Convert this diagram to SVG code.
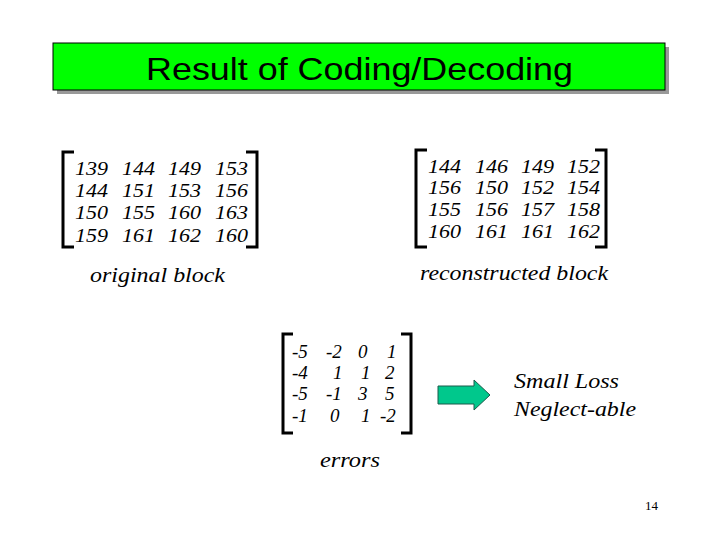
<svg xmlns="http://www.w3.org/2000/svg" width="720" height="540" viewBox="0 0 720 540">
<style>
.m{font-family:"Liberation Serif",serif;font-style:italic;font-size:19px;fill:#000}
.m text{lengthAdjust:spacingAndGlyphs}
.l{font-family:"Liberation Serif",serif;font-style:italic;font-size:22px;fill:#000}
.b{fill:none;stroke:#000;stroke-width:3}
</style>
<rect width="720" height="540" fill="#fff"/>
<g id="title">
<rect x="57" y="47" width="612" height="47" fill="#999"/>
<rect x="53" y="43" width="612" height="47" fill="#00ff00" stroke="#000" stroke-width="1"/>
<text x="146" y="80" textLength="427" lengthAdjust="spacingAndGlyphs" font-family="Liberation Sans,sans-serif" font-size="32">Result of Coding/Decoding</text>
</g>
<g id="original">
<path class="b" d="M74,152 H63 V247 H74 M246,152 H257 V247 H246"/>
<g class="m">
<text x="75" y="175" textLength="33" lengthAdjust="spacingAndGlyphs">139</text><text x="122" y="175" textLength="33" lengthAdjust="spacingAndGlyphs">144</text><text x="168" y="175" textLength="33" lengthAdjust="spacingAndGlyphs">149</text><text x="215" y="175" textLength="33" lengthAdjust="spacingAndGlyphs">153</text>
<text x="75" y="197" textLength="33" lengthAdjust="spacingAndGlyphs">144</text><text x="122" y="197" textLength="33" lengthAdjust="spacingAndGlyphs">151</text><text x="168" y="197" textLength="33" lengthAdjust="spacingAndGlyphs">153</text><text x="215" y="197" textLength="33" lengthAdjust="spacingAndGlyphs">156</text>
<text x="75" y="219" textLength="33" lengthAdjust="spacingAndGlyphs">150</text><text x="122" y="219" textLength="33" lengthAdjust="spacingAndGlyphs">155</text><text x="168" y="219" textLength="33" lengthAdjust="spacingAndGlyphs">160</text><text x="215" y="219" textLength="33" lengthAdjust="spacingAndGlyphs">163</text>
<text x="75" y="242" textLength="33" lengthAdjust="spacingAndGlyphs">159</text><text x="122" y="242" textLength="33" lengthAdjust="spacingAndGlyphs">161</text><text x="168" y="242" textLength="33" lengthAdjust="spacingAndGlyphs">162</text><text x="215" y="242" textLength="33" lengthAdjust="spacingAndGlyphs">160</text>
</g>
<text class="l" x="90" y="282" textLength="135" lengthAdjust="spacingAndGlyphs">original block</text>
</g>
<g id="reconstructed">
<path class="b" d="M427,150 H416 V247 H427 M595,150 H606 V247 H595"/>
<g class="m">
<text x="428" y="173" textLength="33" lengthAdjust="spacingAndGlyphs">144</text><text x="475" y="173" textLength="33" lengthAdjust="spacingAndGlyphs">146</text><text x="521" y="173" textLength="33" lengthAdjust="spacingAndGlyphs">149</text><text x="567" y="173" textLength="33" lengthAdjust="spacingAndGlyphs">152</text>
<text x="428" y="194" textLength="33" lengthAdjust="spacingAndGlyphs">156</text><text x="475" y="194" textLength="33" lengthAdjust="spacingAndGlyphs">150</text><text x="521" y="194" textLength="33" lengthAdjust="spacingAndGlyphs">152</text><text x="567" y="194" textLength="33" lengthAdjust="spacingAndGlyphs">154</text>
<text x="428" y="216" textLength="33" lengthAdjust="spacingAndGlyphs">155</text><text x="475" y="216" textLength="33" lengthAdjust="spacingAndGlyphs">156</text><text x="521" y="216" textLength="33" lengthAdjust="spacingAndGlyphs">157</text><text x="567" y="216" textLength="33" lengthAdjust="spacingAndGlyphs">158</text>
<text x="428" y="238" textLength="33" lengthAdjust="spacingAndGlyphs">160</text><text x="475" y="238" textLength="33" lengthAdjust="spacingAndGlyphs">161</text><text x="521" y="238" textLength="33" lengthAdjust="spacingAndGlyphs">161</text><text x="567" y="238" textLength="33" lengthAdjust="spacingAndGlyphs">162</text>
</g>
<text class="l" x="420" y="280" textLength="188" lengthAdjust="spacingAndGlyphs">reconstructed block</text>
</g>
<g id="errors">
<path class="b" d="M293,334 H283 V433 H293 M401,334 H411 V433 H401"/>
<g class="m">
<text x="292" y="358">-5</text><text x="326" y="358">-2</text><text x="358" y="358">0</text><text x="387" y="358">1</text>
<text x="292" y="379">-4</text><text x="333" y="379">1</text><text x="361" y="379">1</text><text x="385" y="379">2</text>
<text x="292" y="400">-5</text><text x="326" y="400">-1</text><text x="358" y="400">3</text><text x="385" y="400">5</text>
<text x="292" y="422">-1</text><text x="330" y="422">0</text><text x="361" y="422">1</text><text x="380" y="422">-2</text>
</g>
<text class="l" x="320" y="467" textLength="60" lengthAdjust="spacingAndGlyphs">errors</text>
</g>
<g id="connectors">
<path d="M438,386 H474 V380 L490,395 L474,410 V404 H438 Z" fill="#00c88c" stroke="#1a5a4a" stroke-width="1"/>
</g>
<g id="result">
<text class="l" x="514" y="388" textLength="105" lengthAdjust="spacingAndGlyphs">Small Loss</text>
<text class="l" x="514" y="416" textLength="122" lengthAdjust="spacingAndGlyphs">Neglect-able</text>
</g>
<text x="645" y="510" font-family="Liberation Serif,serif" font-size="13">14</text>
</svg>
